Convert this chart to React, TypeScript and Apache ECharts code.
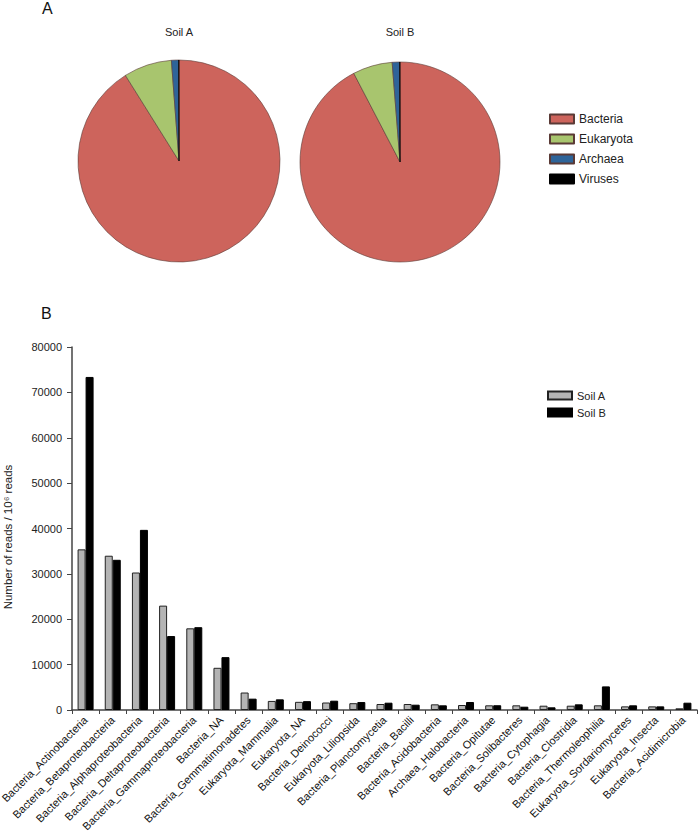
import React, { useEffect, useRef } from "react";
import * as echarts from "echarts";

const domains = ["Bacteria", "Eukaryota", "Archaea", "Viruses"];
const domainColors = ["#CD645C", "#A8C56E", "#2E6499", "#000000"];
const soilAShares = [91.1, 7.7, 1.15, 0.05];
const soilBShares = [92.35, 6.4, 1.2, 0.05];

const categories = [
  "Bacteria_Actinobacteria",
  "Bacteria_Betaproteobacteria",
  "Bacteria_Alphaproteobacteria",
  "Bacteria_Deltaproteobacteria",
  "Bacteria_Gammaproteobacteria",
  "Bacteria_NA",
  "Bacteria_Gemmatimonadetes",
  "Eukaryota_Mammalia",
  "Eukaryota_NA",
  "Bacteria_Deinococci",
  "Eukaryota_Liliopsida",
  "Bacteria_Planctomycetia",
  "Bacteria_Bacilli",
  "Bacteria_Acidobacteria",
  "Archaea_Halobacteria",
  "Bacteria_Opitutae",
  "Bacteria_Solibacteres",
  "Bacteria_Cytophagia",
  "Bacteria_Clostridia",
  "Bacteria_Thermoleophilia",
  "Eukaryota_Sordariomycetes",
  "Eukaryota_Insecta",
  "Bacteria_Acidimicrobia",
];
const soilA = [35400, 34000, 30300, 23000, 18000, 9300, 3850, 2000, 1800, 1650, 1500, 1320, 1320, 1250, 1100, 1030, 1030, 950, 950, 1030, 800, 800, 370];
const soilB = [73400, 33100, 39700, 16300, 18250, 11650, 2500, 2350, 1950, 2050, 1750, 1610, 1170, 1030, 1760, 1050, 730, 590, 1250, 5200, 1030, 800, 1610];

export default function App() {
  const ref = useRef<HTMLDivElement>(null);
  useEffect(() => {
    document.body.style.margin = "0";
    const chart = echarts.init(ref.current!, null, { renderer: "svg" });
    const font = "'Liberation Sans', Arial, Helvetica, sans-serif";
    const pieData = (shares: number[]) =>
      domains.map((d, i) => ({
        name: d,
        value: shares[i],
        itemStyle: { color: domainColors[i], borderColor: i === 3 ? "#000" : "#5a3a36" },
      }));
    chart.setOption({
      animation: false,
      textStyle: { fontFamily: font },
      graphic: [
        { type: "text", left: 42, top: 0, style: { text: "A", font: `16px ${font}`, fill: "#111" } },
        { type: "text", left: 41, top: 305, style: { text: "B", font: `16px ${font}`, fill: "#111" } },
        { type: "text", x: 179, y: 32, style: { text: "Soil A", font: `11px ${font}`, fill: "#222", align: "center", verticalAlign: "middle" } },
        { type: "text", x: 400, y: 32, style: { text: "Soil B", font: `11px ${font}`, fill: "#222", align: "center", verticalAlign: "middle" } },
        {
          type: "text",
          x: 8,
          y: 537,
          rotation: Math.PI / 2,
          style: { text: "Number of reads / 10\u2076 reads", font: `11.5px ${font}`, fill: "#222", align: "center", verticalAlign: "middle" },
        },
      ],
      legend: [
        {
          data: domains,
          orient: "vertical",
          left: 544,
          top: 108,
          icon: "rect",
          itemWidth: 24,
          itemHeight: 9,
          itemGap: 8,
          textStyle: { fontSize: 12, color: "#222", fontFamily: font },
        },
        {
          data: ["Soil A", "Soil B"],
          orient: "vertical",
          left: 542,
          top: 385,
          icon: "rect",
          itemWidth: 24,
          itemHeight: 8,
          itemGap: 6,
          textStyle: { fontSize: 11, color: "#222", fontFamily: font },
        },
      ],
      grid: { left: 72, right: 3, top: 347, bottom: 127, outerBoundsMode: "none", containLabel: false },
      xAxis: {
        type: "category",
        data: categories,
        axisLine: { lineStyle: { color: "#444", width: 1.5 } },
        axisTick: { show: true, length: 4, lineStyle: { color: "#444" } },
        axisLabel: { interval: 0, rotate: 45, fontSize: 11, color: "#111", margin: 8 },
      },
      yAxis: {
        type: "value",
        min: 0,
        max: 80000,
        interval: 10000,
        splitLine: { show: false },
        axisLine: { show: true, lineStyle: { color: "#444", width: 1.5 } },
        axisTick: { show: true, length: 5, lineStyle: { color: "#444" } },
        axisLabel: { fontSize: 11, color: "#222", margin: 10, formatter: (v: number) => String(v) },
      },
      series: [
        {
          type: "pie",
          name: "pieSoilA",
          center: [179, 161],
          radius: 101,
          startAngle: 90,
          label: { show: false },
          labelLine: { show: false },
          itemStyle: { borderWidth: 0.6 },
          data: pieData(soilAShares),
        },
        {
          type: "pie",
          name: "pieSoilB",
          center: [400, 162],
          radius: 100,
          startAngle: 90,
          label: { show: false },
          labelLine: { show: false },
          itemStyle: { borderWidth: 0.6 },
          data: pieData(soilBShares),
        },
        {
          type: "bar",
          name: "Soil A",
          data: soilA,
          barWidth: 8,
          barGap: "0%",
          itemStyle: { color: "#B4B4B4", borderColor: "#222", borderWidth: 1 },
        },
        {
          type: "bar",
          name: "Soil B",
          data: soilB,
          barWidth: 8,
          barGap: "0%",
          itemStyle: { color: "#000000", borderColor: "#000", borderWidth: 1 },
        },
      ],
    });
    return () => chart.dispose();
  }, []);
  return <div ref={ref} style={{ position: "absolute", left: 0, top: 0, width: 700, height: 837 }} />;
}
